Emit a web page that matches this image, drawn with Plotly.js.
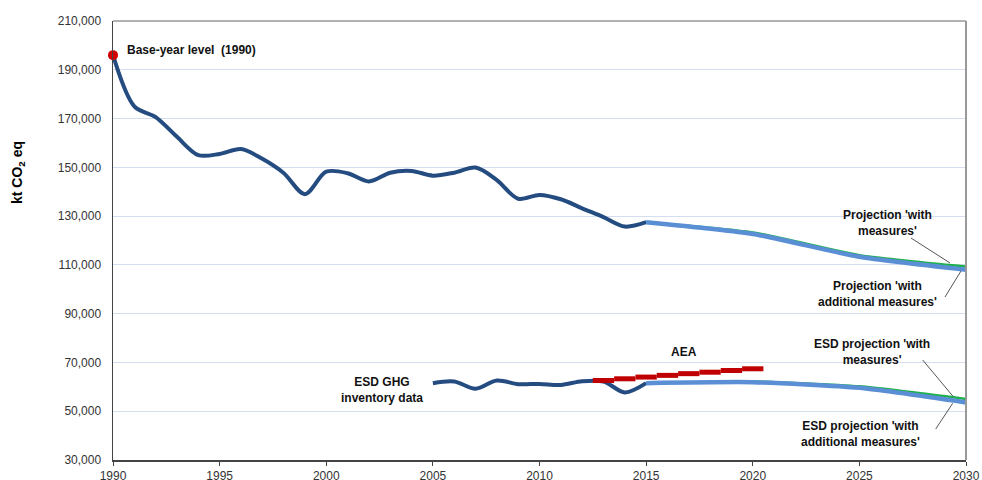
<!DOCTYPE html>
<html>
<head>
<meta charset="utf-8">
<script src="https://cdn.plot.ly/plotly-3.0.1.min.js"></script>
<style>html,body{margin:0;padding:0;background:#fff;}#chart{width:982px;height:480px;}</style>
</head>
<body>
<div id="chart"></div>
<script>
// ---- data ----
var histYears = [1990,1991,1992,1993,1994,1995,1996,1997,1998,1999,2000,2001,2002,2003,2004,2005,2006,2007,2008,2009,2010,2011,2012,2013,2014,2015];
var histValues = [196000,175000,170600,162500,155000,155500,157500,153500,147700,139000,148200,147600,144200,147800,148500,146600,147800,149900,144800,137100,138700,136900,133200,129600,125700,127500];

var projYears = [2015,2020,2025,2030];
var projWM  = [127500,123300,114000,109300];
var projWAM = [127500,122700,113300,108000];

var esdYears = [2005,2006,2007,2008,2009,2010,2011,2012,2013,2014,2015];
var esdValues = [61500,62200,59200,62600,61100,61200,60800,62300,62200,57700,61500];

var esdProjYears = [2015,2020,2025,2030];
var esdWM  = [61500,62200,60200,55000];
var esdWAM = [61500,61900,59600,53600];

var aeaYears = [2013,2014,2015,2016,2017,2018,2019,2020];
var aeaValues = [62600,63300,64000,64700,65400,66000,66700,67400];

var baseYear = [1990];
var baseValue = [196000];

var xTicks = [1990,1995,2000,2005,2010,2015,2020,2025,2030];
var yTicks = [30000,50000,70000,90000,110000,130000,150000,170000,190000,210000];

// ---- helpers ----
var FONT = "Liberation Sans, Arial, sans-serif";
var L = 113, R = 966, T = 21, B = 460;
function px(x){ return 1990 + (x - L) / (R - L) * 40; }
function py(y){ return 210000 - (y - T) / (B - T) * 180000; }

var aeaX = [], aeaY = [];
aeaYears.forEach(function(yr, i){
  aeaX.push(yr - 0.5, yr + 0.5, null);
  aeaY.push(aeaValues[i], aeaValues[i], null);
});

var darkBlue = "#244C80", lightBlue = "#5A8FD6", green = "#1DB04B", red = "#C00000";

var traces = [
  {x: histYears, y: histValues, mode: "lines", line: {color: darkBlue, width: 4, shape: "spline", smoothing: 0.9}},
  {x: projYears, y: projWM, mode: "lines", line: {color: green, width: 2.5, shape: "spline", smoothing: 0.6}},
  {x: projYears, y: projWAM, mode: "lines", line: {color: lightBlue, width: 4.5, shape: "spline", smoothing: 0.6}},
  {x: esdYears, y: esdValues, mode: "lines", line: {color: darkBlue, width: 4, shape: "spline", smoothing: 0.9}},
  {x: esdProjYears, y: esdWM, mode: "lines", line: {color: green, width: 2.5, shape: "spline", smoothing: 0.6}},
  {x: esdProjYears, y: esdWAM, mode: "lines", line: {color: lightBlue, width: 4.5, shape: "spline", smoothing: 0.6}},
  {x: aeaX, y: aeaY, mode: "lines", connectgaps: false, line: {color: red, width: 5}},
  {x: baseYear, y: baseValue, mode: "markers", marker: {color: "#D40000", size: 10}, cliponaxis: false}
];

function ann(text, x, y, xanchor){
  return {text: "<b>" + text + "</b>", x: px(x), y: py(y), xref: "x", yref: "y",
          showarrow: false, xanchor: xanchor || "center", yanchor: "middle",
          font: {family: FONT, size: 12, color: "#111"}, align: "center"};
}
function seg(x0, y0, x1, y1){
  return {type: "line", xref: "x", yref: "y", x0: px(x0), y0: py(y0), x1: px(x1), y1: py(y1),
          line: {color: "#555", width: 1}};
}

var layout = {
  width: 982, height: 480,
  margin: {l: L, r: 982 - R, t: T, b: 480 - B},
  paper_bgcolor: "#fff", plot_bgcolor: "#fff",
  showlegend: false,
  font: {family: FONT, size: 12, color: "#333"},
  xaxis: {range: [1990, 2030], tickvals: xTicks, ticks: "outside", ticklen: 4, tickwidth: 1, tickcolor: "#444",
          showline: true, linecolor: "#444", linewidth: 1.5, showgrid: false, zeroline: false,
          tickfont: {family: FONT, size: 12, color: "#333"}},
  yaxis: {range: [30000, 210000], tickvals: yTicks, tickformat: ",d", ticks: "", ticklabelstandoff: 8,
          showline: true, linecolor: "#444", linewidth: 1.5, showgrid: true, gridcolor: "#D5DEF0", gridwidth: 1,
          zeroline: false, tickfont: {family: FONT, size: 12, color: "#333"}},
  shapes: [
    {type: "line", xref: "paper", yref: "paper", x0: 0, x1: 1, y0: 1, y1: 1, line: {color: "#999", width: 1.5}},
    {type: "line", xref: "paper", yref: "paper", x0: 1, x1: 1, y0: 0, y1: 1, line: {color: "#999", width: 2}},
    seg(911, 238, 950, 263),
    seg(945, 297, 961, 271),
    seg(922.7, 360, 953.3, 396.7),
    seg(935.7, 429, 952.7, 403.3)
  ],
  annotations: [
    ann("Base-year level  (1990)", 125, 50, "left"),
    ann("Projection 'with<br>measures'", 887, 222.5),
    ann("Projection 'with<br>additional measures'", 877, 294.3),
    ann("AEA", 684, 351.7),
    ann("ESD GHG<br>inventory data", 382, 389.5),
    ann("ESD projection 'with<br>measures'", 872, 352),
    ann("ESD projection 'with<br>additional measures'", 860, 434),
    {text: "<b>kt CO<sub>2</sub> eq</b>", xref: "paper", yref: "paper", x: (18 - L) / (R - L), y: (B - 173) / (B - T),
     textangle: -90, showarrow: false, xanchor: "center", yanchor: "middle",
     font: {family: FONT, size: 14, color: "#000"}}
  ]
};

Plotly.newPlot("chart", traces, layout, {displayModeBar: false, staticPlot: true});
</script>
</body>
</html>
